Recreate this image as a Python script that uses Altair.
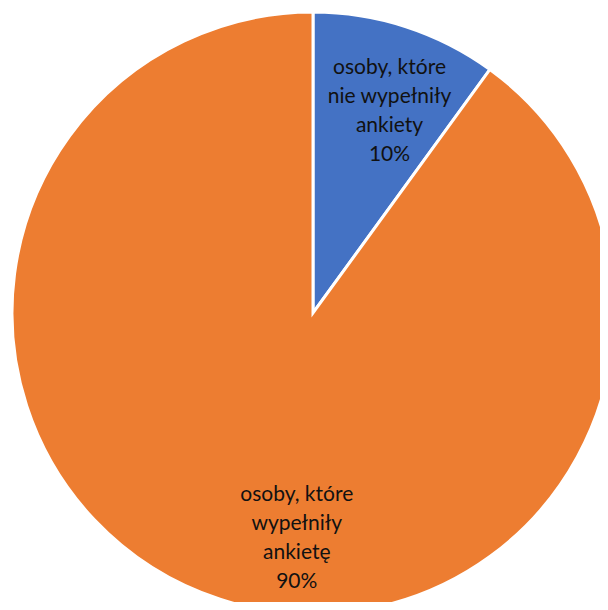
import altair as alt
import pandas as pd

categories = ["osoby, które nie wypełniły ankiety", "osoby, które wypełniły ankietę"]
labels = ["osoby, które\nnie wypełniły\nankiety\n10%", "osoby, które\nwypełniły\nankietę\n90%"]
values = [10, 90]
order = [0, 1]
colors = ["#4472C4", "#ED7D31"]

df = pd.DataFrame({"cat": categories, "label": labels, "value": values, "ord": order})

CX, CY = 305, 305

pie = alt.Chart(df).mark_arc(outerRadius=301, stroke="white", strokeWidth=3).encode(
    theta=alt.Theta("value:Q", stack=True, scale=alt.Scale(domain=[0, 100])),
    order=alt.Order("ord:Q"),
    color=alt.Color("cat:N", scale=alt.Scale(domain=categories, range=colors), legend=None),
    x=alt.value(CX), y=alt.value(CY),
)

textbase = alt.Chart(df).transform_window(
    cum="sum(value)", sort=[alt.SortField("ord")], frame=[None, 0]
).transform_calculate(mid="datum.cum - datum.value / 2")

def text_layer(cat, r, dx, dy):
    return textbase.transform_filter(alt.datum.cat == cat).mark_text(
        radius=r, dx=dx, dy=dy, font="Lato", fontSize=21, color="#111111",
        lineBreak="\n", lineHeight=29, align="center", baseline="middle"
    ).encode(
        theta=alt.Theta("mid:Q", stack=None, scale=alt.Scale(domain=[0, 100])),
        text="label:N",
        x=alt.value(CX), y=alt.value(CY),
    )

t1 = text_layer(categories[0], 212, 11, -43)
t2 = text_layer(categories[1], 237, 57, -43)

chart = alt.layer(pie, t1, t2).properties(
    width=592, height=594, padding=0,
    autosize=alt.AutoSizeParams(type="none")
).configure_view(stroke=None)

chart.save("out.html", embed_options={"renderer": "svg", "actions": False})
